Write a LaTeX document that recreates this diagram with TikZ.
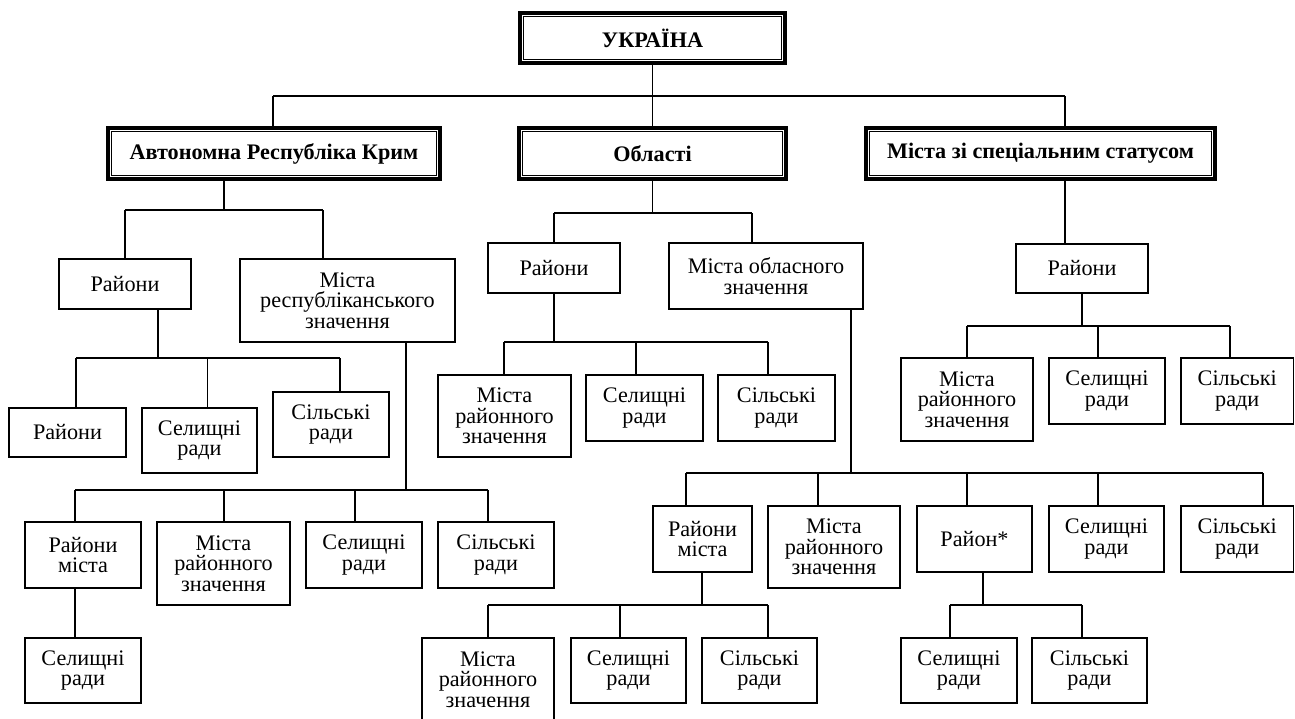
\documentclass[tikz,border=0pt]{standalone}
\usepackage{fontspec}
\setmainfont{Liberation Serif}
\begin{document}
\begin{tikzpicture}[x=1pt,y=-1pt,
  bx/.style={draw, line width=1.1pt, align=center, inner sep=0pt, font=\fontsize{22.2}{20.5}\selectfont},
  hb/.style={draw, line width=1.2pt, align=center, inner sep=0pt, outer sep=5.5pt, font=\fontsize{22.2}{20.5}\selectfont\bfseries},
  frm/.style={line width=3.8pt},
  conn/.style={line width=1.1pt}]
\useasboundingbox (0,0) rectangle (1295,718);
\clip (0,0) rectangle (1295,718);
% level 0 and 1
\node[hb, minimum width=258pt, minimum height=43pt] (ukr) at (652.5,38) {УКРАЇНА};
\node[hb, minimum width=325pt, minimum height=44pt] (ark) at (274,153.5) {Автономна Республіка Крим};
\node[hb, minimum width=260pt, minimum height=44pt] (obl) at (652.5,153.5) {Області};
\node[hb, minimum width=342pt, minimum height=44pt] (msp) at (1040.5,153.5) {Міста зі спеціальним статусом};
\foreach \n in {ukr,ark,obl,msp}
  \draw[frm] ([xshift=1.9pt,yshift=-1.9pt]\n.north west) rectangle ([xshift=-1.9pt,yshift=1.9pt]\n.south east);
% ARC branch
\node[bx, minimum width=132pt, minimum height=50pt] (ar) at (125,284) {Райони};
\node[bx, minimum width=215pt, minimum height=83pt] (amr) at (347.5,300.5) {Міста\\республіканського\\значення};
\node[bx, minimum width=117pt, minimum height=49pt] (arr) at (67.5,432.5) {Райони};
\node[bx, minimum width=115pt, minimum height=65pt] (ars) at (199.5,440.5) {Селищні\\ради};
\node[bx, minimum width=116pt, minimum height=65pt] (arc) at (331,424.5) {Сільські\\ради};
\node[bx, minimum width=116pt, minimum height=66pt] (amrm) at (83,555) {Райони\\міста};
\node[bx, minimum width=133pt, minimum height=83pt] (ammr) at (223.5,563.5) {Міста\\районного\\значення};
\node[bx, minimum width=116pt, minimum height=66pt] (ams) at (364,555) {Селищні\\ради};
\node[bx, minimum width=116pt, minimum height=66pt] (amc) at (496,555) {Сільські\\ради};
\node[bx, minimum width=116pt, minimum height=65pt] (arms) at (83,670.5) {Селищні\\ради};
% Oblast branch
\node[bx, minimum width=132pt, minimum height=50pt] (or) at (554,268) {Райони};
\node[bx, minimum width=194pt, minimum height=66pt] (omo) at (766,276) {Міста обласного\\значення};
\node[bx, minimum width=133pt, minimum height=82pt] (orm) at (504.5,416) {Міста\\районного\\значення};
\node[bx, minimum width=117pt, minimum height=66pt] (ors) at (644.5,408) {Селищні\\ради};
\node[bx, minimum width=117pt, minimum height=66pt] (orc) at (776.5,408) {Сільські\\ради};
\node[bx, minimum width=99pt, minimum height=66pt] (omrm) at (702.5,539) {Райони\\міста};
\node[bx, minimum width=132pt, minimum height=82pt] (ommr) at (834,547) {Міста\\районного\\значення};
\node[bx, minimum width=115pt, minimum height=66pt] (omrs) at (974.5,539) {Район*};
\node[bx, minimum width=115pt, minimum height=66pt] (oms) at (1106.5,539) {Селищні\\ради};
\node[bx, minimum width=112.5pt, minimum height=66pt] (omc) at (1237.25,539) {Сільські\\ради};
\node[bx, minimum width=132pt, minimum height=83pt] (ormm) at (488,679.5) {Міста\\районного\\значення};
\node[bx, minimum width=115pt, minimum height=65pt] (orms) at (628.5,670.5) {Селищні\\ради};
\node[bx, minimum width=115pt, minimum height=65pt] (ormc) at (759.5,670.5) {Сільські\\ради};
\node[bx, minimum width=116pt, minimum height=65pt] (orss) at (959,670.5) {Селищні\\ради};
\node[bx, minimum width=115pt, minimum height=65pt] (orsc) at (1089.5,670.5) {Сільські\\ради};
% special status branch
\node[bx, minimum width=132pt, minimum height=49pt] (sr) at (1082,268.5) {Райони};
\node[bx, minimum width=132pt, minimum height=83pt] (srm) at (967,399.5) {Міста\\районного\\значення};
\node[bx, minimum width=116pt, minimum height=66pt] (srs) at (1107,391) {Селищні\\ради};
\node[bx, minimum width=112.5pt, minimum height=66pt] (src) at (1237.25,391) {Сільські\\ради};
% connectors level 0-1
\coordinate (b0) at (652.5,96);
\draw[conn] (ukr.south) -- (b0);
\draw[conn] (273,96) -- (1065,96);
\draw[conn] (273,96) -- (ark.north -| 273,0);
\draw[conn] (b0) -- (obl.north);
\draw[conn] (1065,96) -- (msp.north -| 1065,0);
% ARC
\draw[conn] (ark.south -| 224,0) -- (224,210);
\draw[conn] (125,210) -- (323,210);
\draw[conn] (125,210) -- (ar.north -| 125,0);
\draw[conn] (323,210) -- (amr.north -| 323,0);
\draw[conn] (ar.south -| 158,0) -- (158,358);
\draw[conn] (76,358) -- (340,358);
\draw[conn] (76,358) -- (arr.north -| 76,0);
\draw[conn] (207.5,358) -- (ars.north -| 207.5,0);
\draw[conn] (340,358) -- (arc.north -| 340,0);
\draw[conn] (amr.south -| 406,0) -- (406,490);
\draw[conn] (75,490) -- (488,490);
\draw[conn] (75,490) -- (amrm.north -| 75,0);
\draw[conn] (224,490) -- (ammr.north -| 224,0);
\draw[conn] (355,490) -- (ams.north -| 355,0);
\draw[conn] (488,490) -- (amc.north -| 488,0);
\draw[conn] (amrm.south -| 75,0) -- (arms.north -| 75,0);
% Oblast
\draw[conn] (obl.south) -- (652.5,213);
\draw[conn] (554,213) -- (752,213);
\draw[conn] (554,213) -- (or.north);
\draw[conn] (752,213) -- (omo.north -| 752,0);
\draw[conn] (or.south) -- (554,342);
\draw[conn] (504,342) -- (768,342);
\draw[conn] (504,342) -- (orm.north -| 504,0);
\draw[conn] (636,342) -- (ors.north -| 636,0);
\draw[conn] (768,342) -- (orc.north -| 768,0);
\draw[conn] (omo.south -| 851,0) -- (851,473);
\draw[conn] (686,473) -- (1263,473);
\draw[conn] (686,473) -- (omrm.north -| 686,0);
\draw[conn] (818,473) -- (ommr.north -| 818,0);
\draw[conn] (967,473) -- (omrs.north -| 967,0);
\draw[conn] (1098,473) -- (oms.north -| 1098,0);
\draw[conn] (1263,473) -- (omc.north -| 1263,0);
\draw[conn] (omrm.south -| 702,0) -- (702,605);
\draw[conn] (488,605) -- (768,605);
\draw[conn] (488,605) -- (ormm.north);
\draw[conn] (620,605) -- (orms.north -| 620,0);
\draw[conn] (768,605) -- (ormc.north -| 768,0);
\draw[conn] (omrs.south -| 983,0) -- (983,605);
\draw[conn] (950,605) -- (1082,605);
\draw[conn] (950,605) -- (orss.north -| 950,0);
\draw[conn] (1082,605) -- (orsc.north -| 1082,0);
% special status
\draw[conn] (msp.south -| 1065,0) -- (sr.north -| 1065,0);
\draw[conn] (sr.south) -- (1082,326);
\draw[conn] (967,326) -- (1230,326);
\draw[conn] (967,326) -- (srm.north);
\draw[conn] (1098,326) -- (srs.north -| 1098,0);
\draw[conn] (1230,326) -- (src.north -| 1230,0);
\end{tikzpicture}
\end{document}
